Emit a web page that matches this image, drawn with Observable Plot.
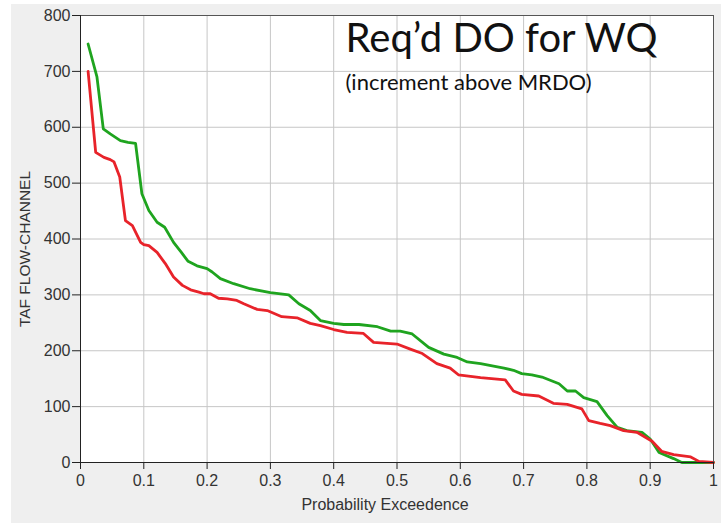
<!DOCTYPE html>
<html>
<head>
<meta charset="utf-8">
<script src="https://cdn.jsdelivr.net/npm/d3@7"></script>
<script src="https://cdn.jsdelivr.net/npm/@observablehq/plot@0.6"></script>
<style>
  html, body { margin: 0; padding: 0; background: #ffffff; }
  #wrap { position: relative; width: 727px; height: 523px; overflow: hidden; }
  #panel { position: absolute; left: 11px; top: 4px; width: 710px; height: 519px; background: #efefef; }
  #chart { position: absolute; left: 0; top: 0; }
</style>
</head>
<body>
<div id="wrap"><div id="panel"></div><div id="chart"></div></div>
<script>
// ---- data ----
const greenP = [0.012, 0.026, 0.036, 0.047, 0.063, 0.075, 0.087, 0.097, 0.108, 0.121, 0.133, 0.147, 0.160, 0.170, 0.184, 0.200, 0.208, 0.221, 0.242, 0.268, 0.300, 0.329, 0.345, 0.363, 0.379, 0.400, 0.416, 0.440, 0.469, 0.490, 0.505, 0.524, 0.550, 0.574, 0.595, 0.611, 0.632, 0.669, 0.684, 0.697, 0.713, 0.729, 0.756, 0.769, 0.782, 0.795, 0.816, 0.832, 0.848, 0.863, 0.887, 0.900, 0.914, 0.937, 0.950, 1.000];
const greenV = [749, 690, 597, 588, 576, 573, 571, 481, 451, 430, 421, 394, 375, 360, 352, 347, 341, 329, 320, 311, 304, 300, 284, 272, 254, 249, 247, 247, 243, 235, 235, 230, 206, 194, 188, 180, 177, 169, 165, 159, 157, 153, 141, 128, 128, 116, 109, 84, 63, 57, 54, 42, 18, 7, 0, 0];

const redP = [0.012, 0.024, 0.037, 0.047, 0.053, 0.062, 0.071, 0.082, 0.095, 0.100, 0.108, 0.121, 0.134, 0.147, 0.161, 0.174, 0.187, 0.195, 0.205, 0.218, 0.232, 0.247, 0.258, 0.279, 0.295, 0.318, 0.342, 0.363, 0.379, 0.400, 0.421, 0.447, 0.463, 0.500, 0.521, 0.540, 0.563, 0.584, 0.597, 0.632, 0.671, 0.684, 0.697, 0.724, 0.747, 0.769, 0.792, 0.803, 0.821, 0.837, 0.858, 0.879, 0.903, 0.918, 0.937, 0.964, 0.977, 1.000];
const redV = [700, 555, 546, 542, 538, 511, 433, 424, 394, 390, 388, 376, 356, 332, 317, 309, 305, 302, 302, 294, 293, 290, 284, 274, 272, 261, 259, 249, 245, 238, 233, 231, 215, 212, 203, 195, 177, 169, 157, 152, 148, 128, 122, 119, 106, 104, 96, 75, 70, 66, 57, 54, 38, 20, 14, 10, 2, 0];

const xTicks = [0, 0.1, 0.2, 0.3, 0.4, 0.5, 0.6, 0.7, 0.8, 0.9, 1];
const yTicks = [0, 100, 200, 300, 400, 500, 600, 700, 800];

const xLabel = "Probability Exceedence";
const yLabel = "TAF FLOW-CHANNEL";
const title = "Req\u2019d DO for WQ";
const subtitle = "(increment above MRDO)";

const green = greenP.map((p, i) => ({p, v: greenV[i]}));
const red = redP.map((p, i) => ({p, v: redV[i]}));

const chart = Plot.plot({
  width: 727,
  height: 523,
  marginLeft: 80,
  marginRight: 14,
  marginTop: 15,
  marginBottom: 61,
  style: {fontFamily: "'Liberation Sans', Arial, sans-serif", fontSize: "16px", background: "transparent", color: "#333"},
  x: {domain: [0, 1]},
  y: {domain: [0, 800]},
  marks: [
    Plot.frame({fill: "white"}),
    Plot.gridX(xTicks, {stroke: "#c6c6c6", strokeOpacity: 1}),
    Plot.gridY(yTicks, {stroke: "#c6c6c6", strokeOpacity: 1}),
    Plot.line(green, {x: "p", y: "v", stroke: "#1fa41f", strokeWidth: 2.8}),
    Plot.line(red, {x: "p", y: "v", stroke: "#e8232a", strokeWidth: 2.8}),
    Plot.frame({stroke: "#555"}),
    Plot.ruleX([0], {stroke: "#222"}),
    Plot.ruleY([0], {stroke: "#222"}),
    Plot.axisX(xTicks, {tickSize: 7, tickPadding: 5, label: null, stroke: "#222", fill: "#333", tickFormat: d => String(d), fontSize: 16}),
    Plot.axisY(yTicks, {tickSize: 8, tickPadding: 2, label: null, stroke: "#222", fill: "#333", tickFormat: d => String(d), fontSize: 16}),
    Plot.text([xLabel], {text: d => d, frameAnchor: "bottom", textAnchor: "middle", dx: -12, dy: 47, fontSize: 16, fill: "#333"}),
    Plot.text([yLabel], {text: d => d, frameAnchor: "left", textAnchor: "middle", lineAnchor: "middle", rotate: -90, dx: -55, dy: 10, fontSize: 15.5, fill: "#333"}),
    Plot.text([title], {text: d => d, frameAnchor: "top-left", textAnchor: "start", lineAnchor: "top", dx: 265, dy: 8, fontSize: 40, fontFamily: "Lato, 'Open Sans', sans-serif", fill: "#111"}),
    Plot.text([subtitle], {text: d => d, frameAnchor: "top-left", textAnchor: "start", lineAnchor: "top", dx: 265, dy: 59, fontSize: 22, fontFamily: "Lato, 'Open Sans', sans-serif", fill: "#111"})
  ]
});
document.getElementById("chart").appendChild(chart);
</script>
</body>
</html>
